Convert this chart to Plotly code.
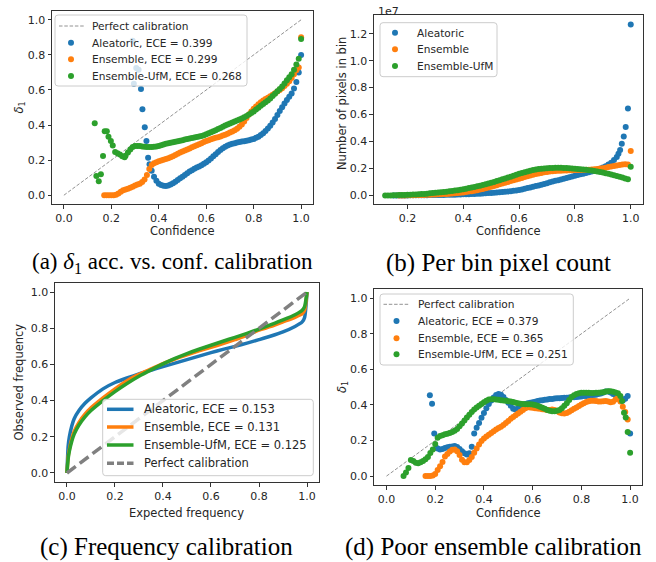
import plotly.graph_objects as go


def bins(a, b, step=0.01):
    n = int(round((b - a) / step)) + 1
    return [round(a + i * step, 3) for i in range(n)]


# ---------------- (a) delta1 accuracy vs confidence ----------------
a_alea_x = [0.29, 0.295, 0.305, 0.315, 0.325, 0.331, 0.341, 0.348, 0.355, 0.361] + bins(0.37, 1.0)
a_alea_y = [0.88, 0.635, 0.725, 0.715, 0.605, 0.49, 0.388, 0.309, 0.214, 0.176,
            0.14, 0.105, 0.082, 0.066, 0.058, 0.054, 0.053, 0.056, 0.061, 0.068,
            0.077, 0.087, 0.097, 0.106, 0.116, 0.126, 0.135, 0.143, 0.151, 0.158,
            0.164, 0.171, 0.179, 0.188, 0.198, 0.21, 0.222, 0.234, 0.247, 0.258,
            0.268, 0.277, 0.284, 0.289, 0.293, 0.297, 0.30, 0.303, 0.306, 0.308,
            0.31, 0.313, 0.317, 0.321, 0.327, 0.334, 0.343, 0.354, 0.366, 0.38,
            0.396, 0.414, 0.435, 0.458, 0.48, 0.502, 0.523, 0.543, 0.562, 0.58,
            0.608, 0.645, 0.70, 0.80]

a_ens_x = bins(0.17, 1.0)
a_ens_y = [0.0, 0.0, 0.0, 0.0, 0.0, 0.003, 0.01, 0.02, 0.028, 0.033,
           0.037, 0.042, 0.048, 0.055, 0.061, 0.066, 0.075, 0.09, 0.115, 0.15,
           0.172, 0.182, 0.188, 0.194, 0.198, 0.202, 0.206, 0.211, 0.216, 0.222,
           0.229, 0.236, 0.243, 0.249, 0.255, 0.261, 0.267, 0.273, 0.279, 0.285,
           0.291, 0.297, 0.303, 0.309, 0.314, 0.319, 0.323, 0.327, 0.331, 0.335,
           0.34, 0.345, 0.351, 0.357, 0.363, 0.37, 0.379, 0.39, 0.403, 0.42,
           0.44, 0.46, 0.478, 0.493, 0.506, 0.518, 0.53, 0.54, 0.548, 0.556,
           0.564, 0.573, 0.582, 0.591, 0.60, 0.61, 0.622, 0.635, 0.65, 0.668,
           0.69, 0.712, 0.728, 0.90]

a_ufm_x = [0.13, 0.137, 0.147, 0.156, 0.165, 0.172, 0.181, 0.188, 0.198, 0.206,
           0.216, 0.226, 0.236, 0.246, 0.256] + bins(0.26, 1.0)
a_ufm_y = [0.41, 0.11, 0.08, 0.12, 0.223, 0.365, 0.365, 0.333, 0.309, 0.284,
           0.246, 0.24, 0.232, 0.222, 0.216,
           0.225, 0.243, 0.261, 0.275, 0.28, 0.281, 0.28, 0.278, 0.276, 0.275,
           0.275, 0.275, 0.276, 0.278, 0.281, 0.285, 0.289, 0.293, 0.296, 0.299,
           0.302, 0.305, 0.308, 0.311, 0.314, 0.317, 0.32, 0.323, 0.326, 0.329,
           0.332, 0.335, 0.338, 0.342, 0.347, 0.353, 0.359, 0.365, 0.371, 0.377,
           0.383, 0.39, 0.397, 0.403, 0.409, 0.414, 0.42, 0.426, 0.432, 0.438,
           0.445, 0.452, 0.46, 0.469, 0.478, 0.488, 0.499, 0.51, 0.52, 0.53,
           0.54, 0.552, 0.565, 0.578, 0.592, 0.606, 0.62, 0.637, 0.655, 0.672,
           0.69, 0.715, 0.745, 0.778, 0.89]

# ---------------- (b) pixels per bin (x 1e7) ----------------
b_alea_x = bins(0.15, 0.94) + [0.95, 0.956, 0.962, 0.968, 0.975, 0.982, 0.99, 1.0]
b_alea_y = [0.0, 0.0, 0.0, 0.0, 0.0, 0.0, 0.001, 0.001, 0.001, 0.001,
            0.001, 0.001, 0.001, 0.002, 0.002, 0.002, 0.002, 0.003, 0.003, 0.004,
            0.004, 0.005, 0.005, 0.006, 0.007, 0.008, 0.009, 0.009, 0.010, 0.011,
            0.012, 0.013, 0.014, 0.015, 0.017, 0.018, 0.019, 0.021, 0.023, 0.025,
            0.027, 0.029, 0.031, 0.034, 0.037, 0.040, 0.044, 0.049, 0.054, 0.059,
            0.064, 0.069, 0.074, 0.079, 0.085, 0.091, 0.097, 0.103, 0.108, 0.113,
            0.118, 0.124, 0.129, 0.135, 0.14, 0.146, 0.151, 0.156, 0.161, 0.166,
            0.171, 0.177, 0.183, 0.19, 0.198, 0.207, 0.217, 0.229, 0.243, 0.262,
            0.285, 0.31, 0.337, 0.383, 0.438, 0.508, 0.645, 1.268]

b_ens_x = bins(0.17, 1.0)
b_ens_y = [0.0, 0.0, 0.0, 0.001, 0.001, 0.001, 0.002, 0.002, 0.003, 0.003,
           0.004, 0.005, 0.006, 0.007, 0.008, 0.009, 0.010, 0.011, 0.013, 0.014,
           0.016, 0.018, 0.020, 0.022, 0.025, 0.028, 0.031, 0.035, 0.039, 0.043,
           0.048, 0.053, 0.058, 0.064, 0.070, 0.076, 0.082, 0.088, 0.094, 0.100,
           0.106, 0.112, 0.118, 0.124, 0.130, 0.136, 0.142, 0.148, 0.153, 0.158,
           0.163, 0.167, 0.171, 0.174, 0.177, 0.179, 0.181, 0.182, 0.183, 0.184,
           0.185, 0.186, 0.187, 0.188, 0.188, 0.189, 0.189, 0.19, 0.191, 0.192,
           0.194, 0.196, 0.199, 0.202, 0.206, 0.210, 0.214, 0.218, 0.222, 0.226,
           0.229, 0.231, 0.230, 0.33]

b_ufm_x = bins(0.12, 1.0)
b_ufm_y = [0.0, 0.0, 0.0, 0.001, 0.001, 0.002, 0.002, 0.003, 0.004, 0.005,
           0.006, 0.007, 0.008, 0.010, 0.011, 0.013, 0.015, 0.017, 0.019, 0.021,
           0.023, 0.025, 0.027, 0.030, 0.033, 0.036, 0.039, 0.042, 0.046, 0.050,
           0.054, 0.058, 0.062, 0.067, 0.072, 0.077, 0.082, 0.088, 0.094, 0.100,
           0.106, 0.112, 0.119, 0.125, 0.132, 0.139, 0.146, 0.153, 0.160, 0.166,
           0.172, 0.178, 0.183, 0.188, 0.192, 0.195, 0.198, 0.200, 0.202, 0.203,
           0.204, 0.205, 0.205, 0.205, 0.204, 0.203, 0.202, 0.200, 0.198, 0.196,
           0.194, 0.192, 0.190, 0.187, 0.184, 0.181, 0.178, 0.174, 0.170, 0.165,
           0.160, 0.155, 0.150, 0.144, 0.138, 0.132, 0.126, 0.120, 0.212]

# ---------------- (c) frequency calibration ----------------
c_x = [0, 0.005, 0.01, 0.02, 0.03, 0.05, 0.075, 0.1, 0.15, 0.2, 0.25, 0.3, 0.35, 0.4,
       0.45, 0.5, 0.55, 0.6, 0.65, 0.7, 0.75, 0.8, 0.85, 0.9, 0.95, 0.98, 0.99, 1.0]
c_alea_y = [0, 0.15, 0.2, 0.26, 0.3, 0.345, 0.385, 0.415, 0.465, 0.5, 0.525, 0.548, 0.568,
            0.588, 0.607, 0.627, 0.646, 0.665, 0.683, 0.7, 0.718, 0.737, 0.757, 0.78,
            0.81, 0.835, 0.86, 1.0]
c_ens_y = [0, 0.09, 0.13, 0.19, 0.23, 0.28, 0.325, 0.36, 0.415, 0.465, 0.51, 0.545, 0.575,
           0.605, 0.63, 0.653, 0.675, 0.695, 0.715, 0.737, 0.76, 0.79, 0.81, 0.835,
           0.86, 0.88, 0.9, 1.0]
c_ufm_y = [0, 0.08, 0.12, 0.175, 0.215, 0.265, 0.31, 0.345, 0.4, 0.45, 0.495, 0.535, 0.57,
           0.603, 0.633, 0.66, 0.684, 0.706, 0.728, 0.75, 0.772, 0.795, 0.82, 0.846,
           0.875, 0.9, 0.92, 1.0]

# ---------------- (d) poor ensemble calibration ----------------
d_alea_x = [0.178, 0.187, 0.196, 0.204] + bins(0.21, 1.0)
d_alea_y = [0.454, 0.407, 0.24, 0.16,
            0.155, 0.15, 0.152, 0.158, 0.162, 0.165, 0.167, 0.169, 0.163, 0.152,
            0.14, 0.128, 0.122, 0.128, 0.165, 0.24, 0.272, 0.298, 0.328, 0.355,
            0.382, 0.405, 0.425, 0.442, 0.456, 0.462, 0.458, 0.445, 0.428, 0.412,
            0.395, 0.378, 0.375, 0.382, 0.39, 0.398, 0.405, 0.41, 0.413, 0.415,
            0.418, 0.422, 0.425, 0.427, 0.429, 0.431, 0.433, 0.434, 0.436, 0.437,
            0.438, 0.439, 0.44, 0.441, 0.442, 0.443, 0.444, 0.445, 0.446, 0.448,
            0.45, 0.451, 0.452, 0.454, 0.456, 0.458, 0.461, 0.465, 0.47, 0.476,
            0.476, 0.47, 0.462, 0.456, 0.445, 0.43, 0.425, 0.435, 0.45, 0.24]

d_ens_x = bins(0.16, 0.99)
d_ens_y = [0.0, 0.0, 0.0, 0.003, 0.012, 0.035, 0.055, 0.08, 0.11, 0.125,
           0.138, 0.148, 0.15, 0.14, 0.118, 0.092, 0.078, 0.078, 0.09, 0.108,
           0.132, 0.155, 0.178, 0.198, 0.212, 0.223, 0.232, 0.242, 0.252, 0.262,
           0.27, 0.278, 0.288, 0.298, 0.31, 0.322, 0.332, 0.342, 0.352, 0.362,
           0.372, 0.382, 0.387, 0.386, 0.384, 0.382, 0.38, 0.378, 0.376, 0.374,
           0.372, 0.372, 0.375, 0.372, 0.365, 0.358, 0.354, 0.352, 0.355, 0.362,
           0.37, 0.378, 0.386, 0.394, 0.402, 0.41, 0.416, 0.421, 0.424, 0.424,
           0.422, 0.42, 0.42, 0.421, 0.422, 0.42, 0.415, 0.418, 0.43, 0.44,
           0.42, 0.39, 0.36, 0.318]

d_ufm_x = bins(0.07, 0.96) + [0.967, 0.975, 0.982, 0.99, 1.0]
d_ufm_y = [0.0, 0.02, 0.045, 0.09, 0.085, 0.075, 0.072, 0.078, 0.085, 0.095,
           0.108, 0.13, 0.15, 0.18, 0.215, 0.225, 0.23, 0.235, 0.238, 0.242,
           0.248, 0.255, 0.265, 0.28, 0.296, 0.312, 0.33, 0.345, 0.36, 0.374,
           0.386, 0.396, 0.405, 0.415, 0.424, 0.43, 0.432, 0.432, 0.431, 0.429,
           0.427, 0.425, 0.423, 0.421, 0.419, 0.416, 0.413, 0.41, 0.407, 0.405,
           0.404, 0.404, 0.404, 0.403, 0.40, 0.396, 0.39, 0.384, 0.378, 0.372,
           0.367, 0.365, 0.365, 0.368, 0.372, 0.382, 0.395, 0.41, 0.428, 0.445,
           0.455, 0.462, 0.466, 0.468, 0.469, 0.469, 0.468, 0.467, 0.467, 0.468,
           0.469, 0.47, 0.472, 0.475, 0.477, 0.477, 0.474, 0.47, 0.466, 0.45,
           0.422, 0.356, 0.33, 0.248, 0.132]

ideal = [0.0, 1.0]
unit_ticks = [0.0, 0.2, 0.4, 0.6, 0.8, 1.0]
b_xticks = [0.2, 0.4, 0.6, 0.8, 1.0]
b_yticks = [0.0, 0.2, 0.4, 0.6, 0.8, 1.0, 1.2]

names_a = ["Perfect calibration", "Aleatoric, ECE = 0.399", "Ensemble, ECE = 0.299", "Ensemble-UfM, ECE = 0.268"]
names_b = ["Aleatoric", "Ensemble", "Ensemble-UfM"]
names_c = ["Aleatoric, ECE = 0.153", "Ensemble, ECE = 0.131", "Ensemble-UfM, ECE = 0.125", "Perfect calibration"]
names_d = ["Perfect calibration", "Aleatoric, ECE = 0.379", "Ensemble, ECE = 0.365", "Ensemble-UfM, ECE = 0.251"]

BLUE, ORANGE, GREEN = "#1f77b4", "#ff7f0e", "#2ca02c"
IDEAL_THIN = "rgba(110,110,110,0.75)"
IDEAL_THICK = "#808080"
FONT = "DejaVu Sans"
FS_TICK = 11
FS_LEG = 10.6
FS_LEG_C = 11.5
FS_TITLE = 11.5
TXT = "#262626"
W, H = 656, 562

fig = go.Figure()


def pts(x, y, color, name, xa, ya):
    fig.add_trace(go.Scatter(x=x, y=y, mode="markers", name=name, showlegend=False,
                             marker=dict(color=color, size=6, line=dict(width=0)),
                             xaxis=xa, yaxis=ya))


def thin_ideal(xa, ya):
    fig.add_trace(go.Scatter(x=ideal, y=ideal, mode="lines", name="Perfect calibration", showlegend=False,
                             line=dict(color=IDEAL_THIN, width=1, dash="3.5px,1.8px"),
                             xaxis=xa, yaxis=ya))


# (a)
thin_ideal("x", "y")
pts(a_alea_x, a_alea_y, BLUE, names_a[1], "x", "y")
pts(a_ens_x, a_ens_y, ORANGE, names_a[2], "x", "y")
pts(a_ufm_x, a_ufm_y, GREEN, names_a[3], "x", "y")
# (b)
pts(b_alea_x, b_alea_y, BLUE, names_b[0], "x2", "y2")
pts(b_ens_x, b_ens_y, ORANGE, names_b[1], "x2", "y2")
pts(b_ufm_x, b_ufm_y, GREEN, names_b[2], "x2", "y2")
# (c)
for yy, col, nm in [(c_alea_y, BLUE, names_c[0]), (c_ens_y, ORANGE, names_c[1]), (c_ufm_y, GREEN, names_c[2])]:
    fig.add_trace(go.Scatter(x=c_x, y=yy, mode="lines", name=nm, showlegend=False,
                             line=dict(color=col, width=3.5, shape="spline", smoothing=0.6),
                             xaxis="x3", yaxis="y3"))
fig.add_trace(go.Scatter(x=ideal, y=ideal, mode="lines", name="Perfect calibration", showlegend=False,
                         line=dict(color=IDEAL_THICK, width=3.5, dash="11px,5px"),
                         xaxis="x3", yaxis="y3"))
# (d)
thin_ideal("x4", "y4")
pts(d_alea_x, d_alea_y, BLUE, names_d[1], "x4", "y4")
pts(d_ens_x, d_ens_y, ORANGE, names_d[2], "x4", "y4")
pts(d_ufm_x, d_ufm_y, GREEN, names_d[3], "x4", "y4")


def ax(domain, anchor, rng, tickvals):
    return dict(domain=domain, anchor=anchor, range=rng, tickvals=tickvals,
                ticktext=["%.1f" % v for v in tickvals],
                showline=True, mirror=True, linecolor="#333333", linewidth=1,
                ticks="outside", ticklen=3.5, tickwidth=1, tickcolor="#333333",
                showgrid=False, zeroline=False,
                tickfont=dict(family=FONT, size=FS_TICK, color=TXT))


fig.update_layout(
    width=W, height=H, margin=dict(l=0, r=0, t=0, b=0),
    paper_bgcolor="white", plot_bgcolor="white", showlegend=False,
    xaxis=ax([0.0793, 0.4771], "y", [-0.05, 1.05], unit_ticks),
    yaxis=ax([0.637, 0.9804], "x", [-0.05, 1.05], unit_ticks),
    xaxis2=ax([0.5701, 0.9802], "y2", [0.08, 1.044], b_xticks),
    yaxis2=ax([0.637, 0.9733], "x2", [-0.064, 1.339], b_yticks),
    xaxis3=ax([0.0838, 0.4863], "y3", [-0.05, 1.05], unit_ticks),
    yaxis3=ax([0.1423, 0.4964], "x3", [-0.05, 1.05], unit_ticks),
    xaxis4=ax([0.5706, 0.9791], "y4", [-0.05, 1.05], unit_ticks),
    yaxis4=ax([0.137, 0.4852], "x4", [-0.05, 1.05], unit_ticks),
)

ann = []
shapes = []


def PX(px):
    return px / W


def PY(py):
    return 1 - py / H


def text(px, py, s, size=FS_LEG, angle=0, family=FONT, color=TXT, xanchor="center"):
    ann.append(dict(x=PX(px), y=PY(py), xref="paper", yref="paper", text=s, showarrow=False,
                    textangle=angle, xanchor=xanchor, yanchor="middle",
                    font=dict(family=family, size=size, color=color)))


def legend_box(x0, y0, x1, y1, r=3):
    rx, ry = r / W, r / H
    X0, X1, Y0, Y1 = PX(x0), PX(x1), PY(y0), PY(y1)
    path = (f"M {X0+rx},{Y0} L {X1-rx},{Y0} Q {X1},{Y0} {X1},{Y0-ry} "
            f"L {X1},{Y1+ry} Q {X1},{Y1} {X1-rx},{Y1} L {X0+rx},{Y1} Q {X0},{Y1} {X0},{Y1+ry} "
            f"L {X0},{Y0-ry} Q {X0},{Y0} {X0+rx},{Y0} Z")
    shapes.append(dict(type="path", path=path, xref="paper", yref="paper",
                       fillcolor="rgba(255,255,255,0.8)", line=dict(color="#cccccc", width=1)))


def leg_line(x0, x1, y, color, width, dash):
    shapes.append(dict(type="line", xref="paper", yref="paper", x0=PX(x0), x1=PX(x1), y0=PY(y), y1=PY(y),
                       line=dict(color=color, width=width, dash=dash)))


def leg_dot(x, y, color, r=3):
    shapes.append(dict(type="circle", xref="paper", yref="paper", xsizemode="pixel", ysizemode="pixel",
                       xanchor=PX(x), yanchor=PY(y), x0=-r, x1=r, y0=-r, y1=r,
                       fillcolor=color, line=dict(width=0)))


# legend (a)
legend_box(55, 15, 247, 86)
rows_a = [26, 42.7, 59.3, 76]
leg_line(59, 85, rows_a[0], IDEAL_THIN, 1, "3.5px,1.8px")
for yy, col in zip(rows_a[1:], [BLUE, ORANGE, GREEN]):
    leg_dot(71, yy, col)
for yy, nm in zip(rows_a, names_a):
    text(90, yy, nm, xanchor="left")

# legend (b)
legend_box(380, 22.7, 497, 76.7)
rows_b = [32.7, 49.3, 66]
for yy, col, nm in zip(rows_b, [BLUE, ORANGE, GREEN], names_b):
    leg_dot(395, yy, col)
    text(415, yy, nm, xanchor="left")

# legend (c)
legend_box(102.7, 399.3, 313.3, 475.7)
rows_c = [409.3, 427, 445, 463.3]
for yy, col, nm in zip(rows_c[:3], [BLUE, ORANGE, GREEN], names_c[:3]):
    leg_line(107, 133.5, yy, col, 3.5, "solid")
    text(141.5, yy, nm, size=FS_LEG_C, xanchor="left")
leg_line(107, 133.5, rows_c[3], IDEAL_THICK, 3.5, "7px,3px")
text(141.5, rows_c[3], names_c[3], size=FS_LEG_C, xanchor="left")

# legend (d)
legend_box(380, 294, 573.3, 365)
rows_d = [304.3, 321, 338.3, 354.3]
leg_line(383.5, 408.5, rows_d[0], IDEAL_THIN, 1, "3.5px,1.8px")
for yy, col in zip(rows_d[1:], [BLUE, ORANGE, GREEN]):
    leg_dot(396.5, yy, col)
for yy, nm in zip(rows_d, names_d):
    text(415.7, yy, nm, xanchor="left")

# axis titles
text(182.5, 231, "Confidence", size=FS_TITLE)
text(508.5, 231, "Confidence", size=FS_TITLE)
text(187, 513, "Expected frequency", size=FS_TITLE)
text(508.3, 513, "Confidence", size=FS_TITLE)
text(19, 107.5, "<i>δ</i><sub>1</sub>", size=FS_TITLE, angle=-90)
text(342, 104, "Number of pixels in bin", size=FS_TITLE, angle=-90)
text(19, 382.5, "Observed frequency", size=FS_TITLE, angle=-90)
text(343, 387, "<i>δ</i><sub>1</sub>", size=FS_TITLE, angle=-90)
text(376, 11.5, "1e7", size=FS_TICK, xanchor="left")

# captions
CAP = "Liberation Serif"
text(172.5, 263, "(a) <i>δ</i><sub>1</sub> acc. vs. conf. calibration", size=23, family=CAP, color="black")
text(498.5, 263, "(b) Per bin pixel count", size=25, family=CAP, color="black")
text(166.5, 547, "(c) Frequency calibration", size=25, family=CAP, color="black")
text(493.5, 547, "(d) Poor ensemble calibration", size=25, family=CAP, color="black")

fig.update_layout(annotations=ann, shapes=shapes)
fig.write_html("out.html", config={"displayModeBar": False},
               post_script="document.body.style.margin='0';")
